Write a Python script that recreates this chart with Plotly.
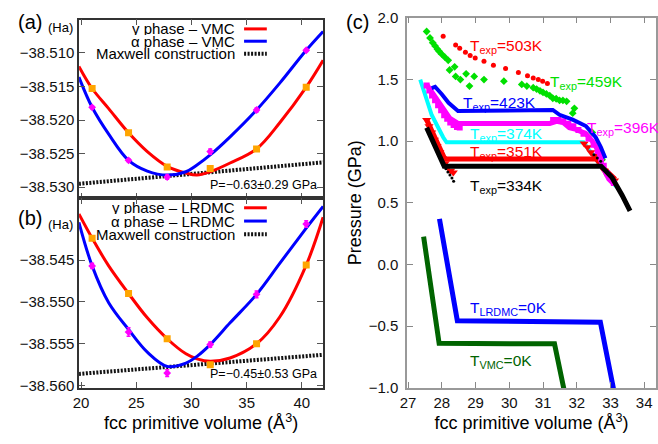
import plotly.graph_objects as go

W, H = 658, 444
FONT = "Liberation Sans, Arial, Helvetica, sans-serif"

# ---------------- (a)/(b): energy vs. volume of the two phases ----------------
vol_pts = [21.0, 24.3, 27.8, 31.7, 35.9, 40.4]

e_gamma_vmc = [-38.5153, -38.5219, -38.5270, -38.5272, -38.5243, -38.5151]
err_gamma_vmc = [0.0001, 0.0001, 0.0002, 0.0001, 0.0002, 0.0001]
e_alpha_vmc = [-38.5181, -38.5260, -38.5285, -38.5247, -38.5185, -38.5096]
err_alpha_vmc = [0.0002, 0.0002, 0.0003, 0.0004, 0.0003, 0.0002]

e_gamma_lrdmc = [-38.5424, -38.5490, -38.5544, -38.5575, -38.5550, -38.5456]
err_gamma_lrdmc = [0.0002, 0.0002, 0.0002, 0.0002, 0.0002, 0.0002]
e_alpha_lrdmc = [-38.5457, -38.5536, -38.5585, -38.5551, -38.5491, -38.5407]
err_alpha_lrdmc = [0.0003, 0.0005, 0.0004, 0.0003, 0.0004, 0.0004]

# equation-of-state fits, sampled along the volume axis
fit_vol = [19.8, 21.0, 22.5, 24.3, 26.0, 27.8, 29.5, 30.5, 31.7, 33.5, 35.9, 38.0, 40.4, 41.93]
fit_gamma_vmc = [-38.5120, -38.5153, -38.5183, -38.5219, -38.5247, -38.5269, -38.5279,
                 -38.5282, -38.5277, -38.5264, -38.5243, -38.5204, -38.5151, -38.5111]
fit_alpha_vmc = [-38.5136, -38.5181, -38.5221, -38.5260, -38.5276, -38.5282, -38.5277,
                 -38.5267, -38.5252, -38.5225, -38.5185, -38.5145, -38.5096, -38.5068]
fit_gamma_lrdmc = [-38.5395, -38.5424, -38.5457, -38.5490, -38.5519, -38.5544, -38.5562,
                   -38.5568, -38.5571, -38.5567, -38.5550, -38.5518, -38.5456, -38.5399]
fit_alpha_lrdmc = [-38.5405, -38.5457, -38.5501, -38.5533, -38.5560, -38.5577, -38.5573,
                   -38.5565, -38.5551, -38.5525, -38.5491, -38.5454, -38.5412, -38.5386]

# energy tick labels
ticks_vmc = [-38.530, -38.525, -38.520, -38.515, -38.510]
ticks_lrdmc = [-38.560, -38.555, -38.550, -38.545]

# common-tangent (Maxwell) lines: transition pressure and tangent point
p_vmc, dp_vmc = -0.63, 0.29
p_lrdmc, dp_lrdmc = -0.45, 0.53
tangent_vmc = (28.8, -38.5282)
tangent_lrdmc = (28.5, -38.5577)
maxwell_vol = [19.8, 41.93]
GPA_PER_HA_A3 = 4359.74


def maxwell_line(p_gpa, tangent):
    v0, e0 = tangent
    return [e0 - p_gpa / GPA_PER_HA_A3 * (v - v0) for v in maxwell_vol]


# ---------------- (c): pressure vs. volume isotherms ----------------
v_503 = [28.04, 28.41, 28.53, 28.70, 28.84, 28.99, 29.25, 29.53, 29.89, 30.27,
         30.54, 30.71, 30.86, 30.99, 31.13]
p_503 = [1.849, 1.779, 1.752, 1.719, 1.693, 1.674, 1.646, 1.615, 1.589, 1.555,
         1.530, 1.511, 1.498, 1.485, 1.466]

v_459 = [27.55, 27.65, 27.73, 27.80, 27.87, 27.92, 27.99, 28.09, 28.19, 28.23,
         28.38, 28.41, 28.55, 28.72, 28.82, 28.96, 29.25, 29.84, 30.37, 30.52,
         30.71, 30.81, 30.91, 31.00, 31.10, 31.20, 31.29, 31.39, 31.49, 31.59,
         31.70, 31.93, 31.88, 32.46, 32.75]
p_459 = [1.888, 1.836, 1.797, 1.771, 1.745, 1.727, 1.706, 1.680, 1.654, 1.576,
         1.602, 1.524, 1.498, 1.545, 1.446, 1.524, 1.498, 1.485, 1.459, 1.446,
         1.433, 1.421, 1.407, 1.394, 1.382, 1.368, 1.347, 1.343, 1.329, 1.329,
         1.322, 1.265, 1.226, 1.070, 0.849]

v_423 = [27.70, 27.80, 28.00, 28.20, 28.48, 31.29, 31.49, 31.88, 32.27, 32.56, 32.71, 32.85]
p_423 = [1.430, 1.440, 1.380, 1.310, 1.244, 1.252, 1.213, 1.174, 1.122, 1.031, 0.953, 0.860]

v_396 = [27.55, 27.85, 28.04, 28.23, 28.48, 31.20, 31.40, 31.60, 31.78, 31.98, 32.27,
         32.46, 32.66, 32.75, 32.95, 33.09]
p_396 = [1.460, 1.345, 1.265, 1.187, 1.143, 1.143, 1.160, 1.150, 1.109, 1.095, 1.060,
         1.000, 0.914, 0.800, 0.693, 0.654]
v_396_pts = [27.55, 27.63, 27.71, 27.80, 27.89, 27.98, 28.07, 28.16, 28.25, 28.35, 28.45,
             28.53, 31.30, 31.45, 31.60, 31.75, 31.90, 32.05, 32.20, 32.35, 32.50, 32.62,
             32.72, 32.80, 32.90, 33.00, 33.10]
p_396_pts = [1.450, 1.410, 1.370, 1.330, 1.290, 1.250, 1.210, 1.180, 1.150, 1.130, 1.115,
             1.110, 1.170, 1.170, 1.160, 1.140, 1.120, 1.090, 1.060, 1.020, 0.970, 0.920,
             0.860, 0.800, 0.740, 0.700, 0.660]

v_374 = [27.36, 27.70, 28.04, 28.14, 32.20, 32.50, 32.80, 33.14, 33.24]
p_374 = [1.498, 1.211, 1.031, 0.990, 0.990, 0.880, 0.760, 0.640, 0.615]

v_351 = [27.55, 28.09, 32.60, 32.80, 33.14]
p_351 = [1.174, 0.854, 0.854, 0.780, 0.690]
v_351_pts = [27.55, 27.62, 27.70, 27.78, 27.86, 27.94, 28.02, 28.10, 28.18, 28.26, 28.34,
             32.22, 32.32, 32.42, 32.52, 32.62, 32.72, 32.82, 32.92, 33.02, 33.12]
p_351_pts = [1.170, 1.120, 1.070, 1.010, 0.960, 0.910, 0.860, 0.820, 0.790, 0.760, 0.745,
             0.980, 0.950, 0.910, 0.880, 0.840, 0.800, 0.760, 0.720, 0.700, 0.680]

v_334 = [27.55, 27.80, 28.07, 32.72, 33.04, 33.34, 33.58]
p_334 = [1.109, 0.950, 0.797, 0.797, 0.706, 0.564, 0.434]
v_334_pts = [28.12, 28.18, 28.24, 28.30, 28.35, 32.51, 32.61, 32.71]
p_334_pts = [0.775, 0.750, 0.725, 0.700, 0.675, 0.889, 0.862, 0.836]

v_lrdmc0 = [27.93, 28.46, 32.70, 33.12]
p_lrdmc0 = [0.370, -0.456, -0.467, -1.050]
v_vmc0 = [27.46, 27.92, 31.34, 31.65]
p_vmc0 = [0.226, -0.639, -0.643, -1.050]

RED, BLUE, MAG, CYAN = "#ff0000", "#0000ff", "#ff00ff", "#00ffff"
GREEN, DKGREEN, ORANGE = "#00e000", "#006400", "#ffa500"


def px_x(p):
    return p / W


def px_y(p):
    return 1 - p / H


fig = go.Figure()


def energy_panel(xa, ya, fit_g, fit_a, e_g, err_g, e_a, err_a, p, tangent):
    fig.add_trace(go.Scatter(x=maxwell_vol, y=maxwell_line(p, tangent), mode="lines",
                             line=dict(color="#111", width=4, dash="2px,1.5px"),
                             xaxis=xa, yaxis=ya, showlegend=False))
    fig.add_trace(go.Scatter(x=fit_vol, y=fit_g, mode="lines", line_shape="spline",
                             line=dict(color=RED, width=3), xaxis=xa, yaxis=ya,
                             showlegend=False))
    fig.add_trace(go.Scatter(x=fit_vol, y=fit_a, mode="lines", line_shape="spline",
                             line=dict(color=BLUE, width=3), xaxis=xa, yaxis=ya,
                             showlegend=False))
    fig.add_trace(go.Scatter(x=vol_pts, y=e_g, mode="markers",
                             marker=dict(symbol="square", size=7, color=ORANGE),
                             error_y=dict(type="data", array=err_g, color=ORANGE,
                                          thickness=1.5, width=2),
                             xaxis=xa, yaxis=ya, showlegend=False))
    fig.add_trace(go.Scatter(x=vol_pts, y=e_a, mode="markers",
                             marker=dict(symbol="diamond", size=6, color=MAG),
                             error_y=dict(type="data", array=err_a, color=MAG,
                                          thickness=1.5, width=2),
                             xaxis=xa, yaxis=ya, showlegend=False))


energy_panel("x", "y", fit_gamma_vmc, fit_alpha_vmc, e_gamma_vmc, err_gamma_vmc,
             e_alpha_vmc, err_alpha_vmc, p_vmc, tangent_vmc)
energy_panel("x2", "y2", fit_gamma_lrdmc, fit_alpha_lrdmc, e_gamma_lrdmc, err_gamma_lrdmc,
             e_alpha_lrdmc, err_alpha_lrdmc, p_lrdmc, tangent_lrdmc)

# (c) isotherms
fig.add_trace(go.Scatter(x=v_459, y=p_459, mode="markers",
                         marker=dict(symbol="diamond", size=6, color=GREEN),
                         xaxis="x3", yaxis="y3", showlegend=False))
fig.add_trace(go.Scatter(x=v_503, y=p_503, mode="markers",
                         marker=dict(symbol="circle", size=5, color=RED),
                         xaxis="x3", yaxis="y3", showlegend=False))
fig.add_trace(go.Scatter(x=v_374, y=p_374, mode="lines",
                         line=dict(color=CYAN, width=4), xaxis="x3", yaxis="y3",
                         showlegend=False))
fig.add_trace(go.Scatter(x=v_351, y=p_351, mode="lines",
                         line=dict(color=RED, width=5), xaxis="x3", yaxis="y3",
                         showlegend=False))
fig.add_trace(go.Scatter(x=v_351_pts, y=p_351_pts, mode="markers",
                         marker=dict(symbol="triangle-down", size=8, color=RED),
                         xaxis="x3", yaxis="y3", showlegend=False))
fig.add_trace(go.Scatter(x=v_396, y=p_396, mode="lines",
                         line=dict(color=MAG, width=5), xaxis="x3", yaxis="y3",
                         showlegend=False))
fig.add_trace(go.Scatter(x=v_396_pts, y=p_396_pts, mode="markers",
                         marker=dict(symbol="square", size=6, color=MAG),
                         xaxis="x3", yaxis="y3", showlegend=False))
fig.add_trace(go.Scatter(x=v_423, y=p_423, mode="lines",
                         line=dict(color=BLUE, width=4), xaxis="x3", yaxis="y3",
                         showlegend=False))
fig.add_trace(go.Scatter(x=v_334, y=p_334, mode="lines",
                         line=dict(color="black", width=5), xaxis="x3", yaxis="y3",
                         showlegend=False))
fig.add_trace(go.Scatter(x=v_334_pts, y=p_334_pts, mode="markers",
                         marker=dict(symbol="circle", size=3, color="black"),
                         xaxis="x3", yaxis="y3", showlegend=False))
fig.add_trace(go.Scatter(x=v_lrdmc0, y=p_lrdmc0, mode="lines",
                         line=dict(color=BLUE, width=5), xaxis="x3", yaxis="y3",
                         showlegend=False))
fig.add_trace(go.Scatter(x=v_vmc0, y=p_vmc0, mode="lines",
                         line=dict(color=DKGREEN, width=5), xaxis="x3", yaxis="y3",
                         showlegend=False))

axis_common = dict(showline=True, linewidth=1.5, mirror="allticks", ticks="inside",
                   ticklen=6, showgrid=False, zeroline=False,
                   tickfont=dict(size=15, color="#111", family=FONT))
frame_ab = dict(linecolor="#333", tickcolor="#555")
frame_c = dict(linecolor="#999", tickcolor="#888")

XA = [px_x(73), px_x(320)]
fig.update_layout(
    width=W, height=H, margin=dict(l=0, r=0, t=0, b=0),
    paper_bgcolor="white", plot_bgcolor="white",
    font=dict(family=FONT, color="black"),
    xaxis=dict(domain=XA, range=[19.82, 41.93], tick0=20, dtick=5, anchor="y",
               showticklabels=False, **axis_common, **frame_ab),
    yaxis=dict(domain=[px_y(197), px_y(11)], range=[-38.53168, -38.50503],
               tickvals=ticks_vmc, tickformat=".3f", anchor="x",
               **axis_common, **frame_ab),
    xaxis2=dict(domain=XA, range=[19.82, 41.93], tick0=20, dtick=5, anchor="y2",
                title=dict(text="fcc primitive volume (Å<sup>3</sup>)",
                           font=dict(size=18), standoff=4),
                **axis_common, **frame_ab),
    yaxis2=dict(domain=[px_y(394), px_y(197)], range=[-38.56027, -38.53765],
                tickvals=ticks_lrdmc, tickformat=".3f", anchor="x2",
                **axis_common, **frame_ab),
    xaxis3=dict(domain=[px_x(405), px_x(657)], range=[26.97, 34.35], tick0=27, dtick=1,
                anchor="y3",
                title=dict(text="fcc primitive volume (Å<sup>3</sup>)",
                           font=dict(size=18), standoff=4),
                **axis_common, **frame_c),
    yaxis3=dict(domain=[px_y(394), px_y(9)], range=[-1.0, 2.0], tick0=-1, dtick=0.5,
                tickformat=".1f", anchor="x3", ticklabelstandoff=4,
                title=dict(text="Pressure (GPa)", font=dict(size=18), standoff=2),
                **axis_common, **frame_c),
)

ann = []
shapes = []

# panel letters and energy units
for label, y in (("(a)", 14), ("(b)", 217), ("(c)", 14)):
    x = 9 if label != "(c)" else 341
    ann.append(dict(text=label, x=px_x(x), y=px_y(y), xref="paper", yref="paper",
                    xanchor="left", yanchor="middle", showarrow=False,
                    font=dict(size=20)))
for y in (19, 224):
    ann.append(dict(text="(Ha)", x=px_x(39), y=px_y(y), xref="paper", yref="paper",
                    xanchor="left", yanchor="middle", showarrow=False,
                    font=dict(size=13)))

# keys for (a) and (b)
keys = [
    (["γ phase – VMC", "α phase – VMC", "Maxwell construction"], [20.7, 33.5, 46.5]),
    (["γ phase – LRDMC", "α phase – LRDMC", "Maxwell construction"], [206.7, 220.5, 234.3]),
]
key_styles = [dict(color=RED, width=3), dict(color=BLUE, width=3),
              dict(color="#111", width=4, dash="2px,1.5px")]
for names, rows in keys:
    for name, row, style in zip(names, rows, key_styles):
        ann.append(dict(text=name, x=px_x(233), y=px_y(row), xref="paper", yref="paper",
                        xanchor="right", yanchor="middle", showarrow=False,
                        height=13, font=dict(size=15)))
        shapes.append(dict(type="line", xref="paper", yref="paper",
                           x0=px_x(240), x1=px_x(263), y0=px_y(row), y1=px_y(row),
                           line=style))

# transition pressures
for p, dp, y in ((p_vmc, dp_vmc, 183), (p_lrdmc, dp_lrdmc, 380)):
    txt = f"P={p:.2f}±{dp:.2f} GPa".replace("-", "−")
    ann.append(dict(text=txt, x=px_x(316), y=px_y(y), xref="paper", yref="paper",
                    xanchor="right", yanchor="middle", showarrow=False,
                    font=dict(size=12.5)))

# isotherm labels in (c)
iso_labels = [
    ("T<sub>exp</sub>=503K", 28.78, 1.768, RED),
    ("T<sub>exp</sub>=459K", 31.16, 1.475, GREEN),
    ("T<sub>exp</sub>=423K", 28.58, 1.306, BLUE),
    ("T<sub>exp</sub>=396K", 32.23, 1.098, MAG),
    ("T<sub>exp</sub>=374K", 28.77, 1.051, CYAN),
    ("T<sub>exp</sub>=351K", 28.77, 0.911, RED),
    ("T<sub>exp</sub>=334K", 28.77, 0.631, "black"),
    ("T<sub>LRDMC</sub>=0K", 28.77, -0.355, BLUE),
    ("T<sub>VMC</sub>=0K", 28.77, -0.784, DKGREEN),
]
for txt, x, y, col in iso_labels:
    ann.append(dict(text=txt, x=x, y=y, xref="x3", yref="y3", xanchor="left",
                    yanchor="middle", showarrow=False,
                    font=dict(size=15.5, color=col)))

fig.update_layout(annotations=ann, shapes=shapes)
fig.write_html("out.html")
